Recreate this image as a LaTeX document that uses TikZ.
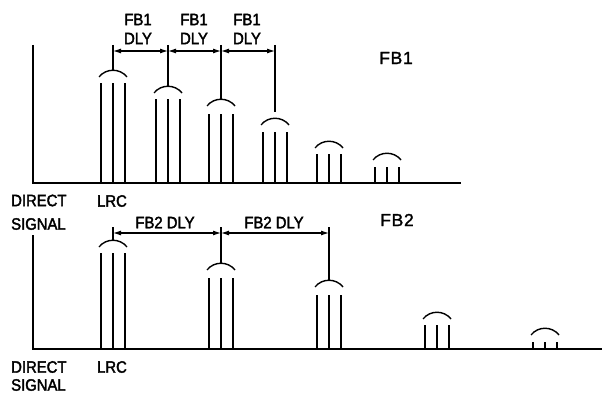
\documentclass[tikz,border=0pt]{standalone}
\usepackage{fontspec}
\setmainfont{Liberation Sans}
\newfontfamily\lblfont[FakeStretch=0.9,FakeBold=2.2]{Liberation Sans}
\newfontfamily\bigfont[FakeBold=1.5,LetterSpace=4]{Liberation Sans}
\usetikzlibrary{arrows.meta}
\begin{document}
\begin{tikzpicture}[x=1pt,y=-1pt,
  axisline/.style={line width=1.8pt},
  spike/.style={line width=1.5pt},
  hump/.style={line width=1.4pt},
  marker/.style={line width=1.1pt},
  dimarrow/.style={line width=1.1pt,{Latex[length=8pt,width=5pt]}-{Latex[length=8pt,width=5pt]}},
  lbl/.style={font=\lblfont\fontsize{16.5}{16}\selectfont,inner sep=0pt,align=center},
  biglbl/.style={font=\bigfont\fontsize{17.5}{19}\selectfont,inner sep=0pt}]
\useasboundingbox (0,0) rectangle (604,393);
% group macro: center, line top, arc peak, baseline
\newcommand\pulsegrp[4]{%
  \draw[spike] (#1-12,#4) -- (#1-12,#2) (#1,#4) -- (#1,#2) (#1+12,#4) -- (#1+12,#2);
  \draw[hump] (#1-14,#3+7) .. controls (#1-7,#3-2) and (#1+7,#3-2) .. (#1+14,#3+7);
}
% ---------- top panel FB1 ----------
\draw[axisline] (33,45) -- (33,183) -- (461,183);
\pulsegrp{113}{83}{70}{183}
\pulsegrp{168}{99}{86}{183}
\pulsegrp{221}{114}{99}{183}
\pulsegrp{275}{132}{118}{183}
\pulsegrp{329}{154}{141}{183}
\pulsegrp{387}{167}{153}{183}
\coordinate (a1t) at (113,45); \coordinate (a1b) at (113,70);
\coordinate (a2t) at (168,45); \coordinate (a2b) at (168,86);
\coordinate (a3t) at (221,45); \coordinate (a3b) at (221,99);
\coordinate (a4t) at (275,45); \coordinate (a4b) at (275,112);
\draw[marker] (a1t) -- (a1b) (a2t) -- (a2b) (a3t) -- (a3b) (a4t) -- (a4b);
\coordinate (d1) at (113,51); \coordinate (d2) at (168,51);
\coordinate (d3) at (221,51); \coordinate (d4) at (275,51);
\draw[dimarrow] (d1) -- (d2);
\draw[dimarrow] (d2) -- (d3);
\draw[dimarrow] (d3) -- (d4);
\node[lbl] (t1) at (138,29) {FB1\\[3pt]DLY};
\node[lbl] (t2) at (194,29) {FB1\\[3pt]DLY};
\node[lbl] (t3) at (247,29) {FB1\\[3pt]DLY};
\node[biglbl] (fb1) at (396,58) {FB1};
\node[lbl,anchor=west] (ds1a) at (11,200.5) {DIRECT};
\node[lbl,anchor=west] (ds1b) at (11,224) {SIGNAL};
\node[lbl] (lrc1) at (112,201) {LRC};
% ---------- bottom panel FB2 ----------
\draw[axisline] (33,235) -- (33,349) -- (602,349);
\pulsegrp{113}{253}{240}{349}
\pulsegrp{221}{278}{263}{349}
\pulsegrp{329}{295}{280}{349}
\pulsegrp{437}{325}{312}{349}
\pulsegrp{545}{342}{328}{349}
\coordinate (b1t) at (113,227); \coordinate (b1b) at (113,240);
\coordinate (b2t) at (221,227); \coordinate (b2b) at (221,263);
\coordinate (b3t) at (329,227); \coordinate (b3b) at (329,280);
\draw[marker] (b1t) -- (b1b) (b2t) -- (b2b) (b3t) -- (b3b);
\coordinate (e1) at (113,233); \coordinate (e2) at (221,233); \coordinate (e3) at (329,233);
\draw[dimarrow] (e1) -- (e2);
\draw[dimarrow] (e2) -- (e3);
\node[lbl] (u1) at (165,222.5) {FB2 DLY};
\node[lbl] (u2) at (274,222.5) {FB2 DLY};
\node[biglbl] (fb2) at (397,220) {FB2};
\node[lbl,anchor=west] (ds2a) at (11,367) {DIRECT};
\node[lbl,anchor=west] (ds2b) at (11,385) {SIGNAL};
\node[lbl] (lrc2) at (112,367) {LRC};
\end{tikzpicture}
\end{document}
